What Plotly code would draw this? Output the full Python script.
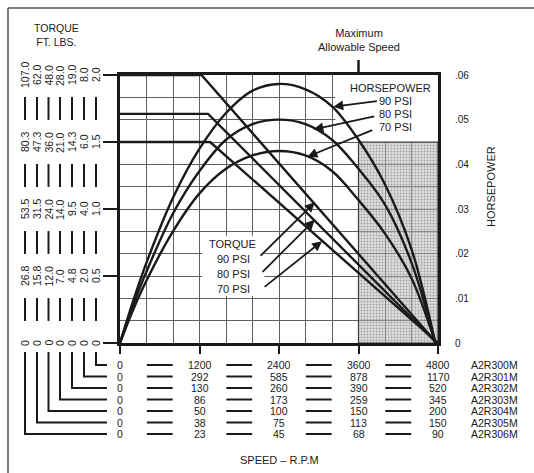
import plotly.graph_objects as go

# ---- Horsepower curves (hp vs rpm) --------------------------------------
HP_RPM = [0, 200, 400, 800, 1200, 1600, 2000, 2400, 2800, 3200, 3600, 4000, 4400, 4760]
HP_90 = [0, 0.0095, 0.018, 0.0325, 0.0435, 0.0515, 0.0565, 0.058, 0.0568, 0.053, 0.0455, 0.0355, 0.021, 0]
HP_80 = [0, 0.0085, 0.016, 0.029, 0.0385, 0.0455, 0.049, 0.050, 0.049, 0.0455, 0.039, 0.031, 0.018, 0]
HP_70 = [0, 0.0075, 0.014, 0.025, 0.0335, 0.039, 0.042, 0.043, 0.042, 0.0385, 0.032, 0.0245, 0.0145, 0]

# ---- Torque curves (A2R300M scale) --------------------------------------
TQ_90_RPM = [0, 1230, 4780]
TQ_90 = [2.0, 2.0, 0.0]
TQ_80_RPM = [0, 1330, 4780]
TQ_80 = [1.71, 1.71, 0.0]
TQ_70_RPM = [0, 1360, 4800]
TQ_70 = [1.5, 1.5, 0.0]

MAX_SPEED = 3600          # maximum allowable speed
TOP_SPEED = 4800
SHADE_TORQUE = 1.5

# ---- Axis scales ---------------------------------------------------------
SPEED_TICKS = [0, 1200, 2400, 3600, 4800]
TORQUE_TICKS = [0, 0.5, 1.0, 1.5, 2.0]
HP_TICKS = [0, 0.01, 0.02, 0.03, 0.04, 0.05, 0.06]
HP_TICK_TEXT = ["0", ".01", ".02", ".03", ".04", ".05", ".06"]

# torque scale per model, columns left to right (A2R306M ... A2R300M)
TORQUE_COLUMNS = [
    ["0", "26.8", "53.5", "80.3", "107.0"],
    ["0", "15.8", "31.5", "47.3", "62.0"],
    ["0", "12.0", "24.0", "36.0", "48.0"],
    ["0", "7.0", "14.0", "21.0", "28.0"],
    ["0", "4.8", "9.5", "14.3", "19.0"],
    ["0", "2.0", "4.0", "6.0", "8.0"],
    ["0", "0.5", "1.0", "1.5", "2.0"],
]

# speed scale per model
MODELS = ["A2R300M", "A2R301M", "A2R302M", "A2R303M", "A2R304M", "A2R305M", "A2R306M"]
SPEED_TABLE = [
    ["0", "1200", "2400", "3600", "4800"],
    ["0", "292", "585", "878", "1170"],
    ["0", "130", "260", "390", "520"],
    ["0", "86", "173", "259", "345"],
    ["0", "50", "100", "150", "200"],
    ["0", "38", "75", "113", "150"],
    ["0", "23", "45", "68", "90"],
]

W, H = 534, 473
ML, MR, MT, MB = 120, 96, 75, 130
PW, PH = W - ML - MR, H - MT - MB


def px(x):
    return (x - ML) / PW


def py(y):
    return (H - MB - y) / PH


FONT = "Liberation Sans, Arial, sans-serif"
INK = "#1a1a1a"
GRID = "#5e5e5e"


def label(text, x, y, xref="paper", yref="paper", size=11, angle=0):
    return dict(text=text, x=x, y=y, xref=xref, yref=yref, showarrow=False,
                xanchor="center", yanchor="middle", textangle=angle, align="center",
                font=dict(size=size, color=INK, family=FONT))


fig = go.Figure()

# shaded zone beyond the maximum allowable speed
fig.add_trace(go.Scatter(
    x=[MAX_SPEED, TOP_SPEED, TOP_SPEED, MAX_SPEED, MAX_SPEED],
    y=[0, 0, SHADE_TORQUE, SHADE_TORQUE, 0],
    mode="lines", fill="toself",
    fillcolor="rgba(190,190,190,0.5)",
    fillpattern=dict(shape=".", fgcolor="#6a6a6a", size=3, solidity=0.35, fillmode="overlay"),
    line=dict(color="#3a3a3a", width=1.2),
    hoverinfo="skip", showlegend=False,
))

for xs, ys in [(TQ_90_RPM, TQ_90), (TQ_80_RPM, TQ_80), (TQ_70_RPM, TQ_70)]:
    fig.add_trace(go.Scatter(x=xs, y=ys, mode="lines", yaxis="y",
                             line=dict(color=INK, width=2.4), showlegend=False))

for ys in [HP_90, HP_80, HP_70]:
    fig.add_trace(go.Scatter(x=HP_RPM, y=ys, mode="lines", yaxis="y2",
                             line=dict(color=INK, width=2.4, shape="spline", smoothing=1.0),
                             showlegend=False))

shapes = []
annotations = []

# white panels behind the curve captions
shapes.append(dict(type="rect", xref="x", yref="y", x0=3250, x1=TOP_SPEED, y0=SHADE_TORQUE, y1=2.0,
                   fillcolor="white", line=dict(width=0), layer="between"))
shapes.append(dict(type="rect", xref="x", yref="y", x0=1240, x1=2180, y0=0.35, y1=0.80,
                   fillcolor="white", line=dict(width=0), layer="between"))

# maximum allowable speed marker
shapes.append(dict(type="line", xref="x", yref="paper", x0=MAX_SPEED, x1=MAX_SPEED,
                   y0=1.0, y1=py(60), line=dict(color=INK, width=2.5)))
annotations.append(label("Maximum<br>Allowable Speed", MAX_SPEED, py(40), xref="x", size=11))

# outer frame
shapes.append(dict(type="line", xref="paper", yref="paper", x0=px(8), x1=px(540), y0=py(8), y1=py(8),
                   line=dict(color="#555", width=1.5)))
shapes.append(dict(type="line", xref="paper", yref="paper", x0=px(8), x1=px(8), y0=py(8), y1=py(480),
                   line=dict(color="#555", width=1.5)))

# torque scales on the left
COL_X = [25, 37, 48.5, 60, 72, 84, 96]
for j, col in enumerate(TORQUE_COLUMNS):
    for lvl, txt in zip(TORQUE_TICKS, col):
        annotations.append(label(txt, px(COL_X[j]), lvl, yref="y", size=10.5, angle=-90))
    for k in range(len(TORQUE_TICKS) - 1):
        mid = (TORQUE_TICKS[k] + TORQUE_TICKS[k + 1]) / 2
        shapes.append(dict(type="line", xref="paper", yref="y", x0=px(COL_X[j]), x1=px(COL_X[j]),
                           y0=mid - 0.085, y1=mid + 0.085, line=dict(color=INK, width=2)))

annotations.append(label("TORQUE<br>FT. LBS.", px(57), py(35), size=10.5))

# speed table below the chart
ROW_Y = [365, 376.5, 388, 399.5, 411, 422.5, 434]
DASH_MID = [600, 1800, 3000, 4200]
for r, (model, row) in enumerate(zip(MODELS, SPEED_TABLE)):
    yv = py(ROW_Y[r])
    for sp, txt in zip(SPEED_TICKS, row):
        annotations.append(label(txt, sp, yv, xref="x", size=10.5))
    for m in DASH_MID:
        shapes.append(dict(type="line", xref="x", yref="paper", x0=m - 195, x1=m + 195, y0=yv, y1=yv,
                           line=dict(color=INK, width=2)))
    annotations.append(label(model, px(494), yv, size=10.5))

# brackets tying each torque column to its speed row
for j, cx in enumerate(COL_X):
    ry = ROW_Y[len(COL_X) - 1 - j]
    shapes.append(dict(type="path", xref="paper", yref="paper",
                       path=f"M {px(cx)},{py(352)} L {px(cx)},{py(ry)} L {px(107)},{py(ry)}",
                       line=dict(color=INK, width=2)))

annotations.append(label("SPEED – R.P.M", 2400, py(460), xref="x", size=11))
annotations.append(label("HORSEPOWER", px(491), py(187), size=11, angle=-90))

# curve captions and pointers
annotations.append(label("HORSEPOWER", px(390), py(88), size=11))
for txt, ycap in [("90 PSI", 101), ("80 PSI", 114), ("70 PSI", 127)]:
    annotations.append(label(txt, px(395), py(ycap), size=11))
for (tx, ty, hx, hy) in [(3220, 0.0529, 3900, 0.0542), (2920, 0.0478, 3860, 0.0508),
                         (2830, 0.0417, 3830, 0.0478)]:
    annotations.append(dict(text="", x=tx, y=ty, xref="x", yref="y2", ax=hx, ay=hy, axref="x",
                            ayref="y2", showarrow=True, arrowhead=2, arrowsize=1.1, arrowwidth=1.8,
                            arrowcolor=INK))

annotations.append(label("TORQUE", px(232), py(244), size=11))
for txt, ycap in [("90 PSI", 259), ("80 PSI", 274), ("70 PSI", 289)]:
    annotations.append(label(txt, px(233), py(ycap), size=11))
for (tx, ty, hx, hy) in [(2940, 1.05, 2100, 0.64), (2940, 0.92, 2130, 0.52),
                         (3050, 0.76, 2160, 0.41)]:
    annotations.append(dict(text="", x=tx, y=ty, xref="x", yref="y", ax=hx, ay=hy, axref="x",
                            ayref="y", showarrow=True, arrowhead=2, arrowsize=1.1, arrowwidth=1.8,
                            arrowcolor=INK))

fig.update_layout(
    width=W, height=H,
    margin=dict(l=ML, r=MR, t=MT, b=MB, autoexpand=False),
    paper_bgcolor="white", plot_bgcolor="white",
    font=dict(family=FONT, color=INK),
    showlegend=False,
    xaxis=dict(range=[0, TOP_SPEED], showline=True, linecolor=INK, linewidth=2.5, mirror=True,
               ticks="outside", tickmode="array", tickvals=SPEED_TICKS, ticklen=8, tickwidth=2,
               tickcolor=INK, showticklabels=False, zeroline=False,
               showgrid=True, gridcolor=GRID, gridwidth=1.3,
               minor=dict(dtick=400, tick0=0, showgrid=True, gridcolor=GRID, gridwidth=1.3, ticks="")),
    yaxis=dict(range=[0, 2.0], showline=True, linecolor=INK, linewidth=2.5, mirror=True,
               ticks="outside", tickmode="array", tickvals=TORQUE_TICKS, ticklen=14, tickwidth=2,
               tickcolor=INK, showticklabels=False, showgrid=False, zeroline=False),
    yaxis2=dict(range=[0, 0.06], overlaying="y", side="right", tickmode="array",
                tickvals=HP_TICKS, ticktext=HP_TICK_TEXT, ticks="", ticklabelstandoff=16,
                tickfont=dict(size=10, color=INK, family=FONT), showline=False, zeroline=False,
                showgrid=True, gridcolor=GRID, gridwidth=1.3,
                minor=dict(dtick=0.005, tick0=0, showgrid=True, gridcolor=GRID, gridwidth=1.3, ticks="")),
    shapes=shapes,
    annotations=annotations,
)

fig.write_html("out.html")
